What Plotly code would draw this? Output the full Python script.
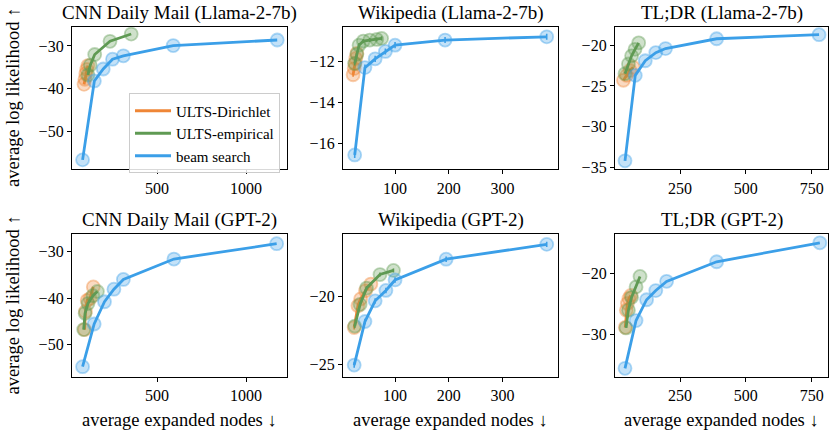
import plotly.graph_objects as go

W, H = 831, 439

titles = ["CNN Daily Mail (Llama-2-7b)", "Wikipedia (Llama-2-7b)", "TL;DR (Llama-2-7b)",
          "CNN Daily Mail (GPT-2)", "Wikipedia (GPT-2)", "TL;DR (GPT-2)"]
series_names = ["ULTS-Dirichlet", "ULTS-empirical", "beam search"]
y_label = "average log likelihood ↑"
x_label = "average expanded nodes ↓"

# ---- CNN Daily Mail (Llama-2-7b)
cnn_llama_dir_x = [90, 95, 100, 105, 112]
cnn_llama_dir_y = [-39.0, -37.8, -36.5, -35.5, -34.6]
cnn_llama_emp_x = [112, 125, 150, 236, 355]
cnn_llama_emp_y = [-36.8, -34.5, -32.0, -28.9, -27.2]
cnn_llama_beam_x = [82, 148, 198, 250, 311, 591, 1175]
cnn_llama_beam_y = [-56.7, -38.2, -35.4, -33.1, -32.3, -29.9, -28.6]

# ---- Wikipedia (Llama-2-7b)
wiki_llama_dir_x = [22, 24, 25.5, 27, 29]
wiki_llama_dir_y = [-12.65, -12.35, -12.1, -11.85, -11.6]
wiki_llama_emp_x = [25, 29, 33, 41, 53, 66, 75]
wiki_llama_emp_y = [-12.1, -11.65, -11.2, -11.0, -10.95, -10.92, -10.87]
wiki_llama_beam_x = [25, 44, 63, 82, 100, 193, 382]
wiki_llama_beam_y = [-16.58, -12.3, -11.87, -11.51, -11.2, -10.95, -10.79]
wiki_llama_err = [0.1, 0.1, 0.15]

# ---- TL;DR (Llama-2-7b)
tldr_llama_dir_x = [35, 47, 60, 72]
tldr_llama_dir_y = [-24.3, -23.7, -23.1, -22.7]
tldr_llama_emp_x = [41, 54, 66, 79, 93]
tldr_llama_emp_y = [-23.5, -22.3, -21.3, -20.5, -19.7]
tldr_llama_beam_x = [41, 80, 118, 158, 195, 389, 778]
tldr_llama_beam_y = [-34.2, -23.7, -21.9, -20.9, -20.4, -19.2, -18.7]

# ---- CNN Daily Mail (GPT-2)
cnn_gpt2_dir_x = [93, 98, 108, 124, 142]
cnn_gpt2_dir_y = [-46.8, -42.9, -40.5, -40.1, -37.6]
cnn_gpt2_emp_x = [88, 96, 112, 140, 165]
cnn_gpt2_emp_y = [-46.8, -43.3, -41.2, -39.5, -38.6]
cnn_gpt2_beam_x = [82, 147, 205, 258, 311, 595, 1172]
cnn_gpt2_beam_y = [-54.8, -45.6, -40.8, -38.1, -36.0, -31.6, -28.3]

# ---- Wikipedia (GPT-2)
wiki_gpt2_dir_x = [24, 31, 36, 45, 55]
wiki_gpt2_dir_y = [-22.3, -20.7, -20.2, -19.6, -19.1]
wiki_gpt2_emp_x = [25, 35, 47, 72, 97]
wiki_gpt2_emp_y = [-22.2, -20.6, -19.4, -18.4, -18.1]
wiki_gpt2_beam_x = [24, 44, 63, 83, 100, 195, 382]
wiki_gpt2_beam_y = [-25.07, -21.86, -20.34, -19.57, -18.8, -17.27, -16.18]
wiki_gpt2_err = [0.15, 0.15, 0.2]

# ---- TL;DR (GPT-2)
tldr_gpt2_dir_x = [42, 46, 50, 56, 63]
tldr_gpt2_dir_y = [-28.8, -26.0, -24.9, -24.1, -23.6]
tldr_gpt2_emp_x = [45, 54, 66, 83, 98]
tldr_gpt2_emp_y = [-28.9, -26.0, -23.9, -22.2, -20.5]
tldr_gpt2_beam_x = [41, 83, 123, 158, 199, 389, 781]
tldr_gpt2_beam_y = [-35.5, -27.7, -24.3, -22.8, -21.3, -18.1, -15.0]

panels = [
    ((cnn_llama_dir_x, cnn_llama_dir_y), (cnn_llama_emp_x, cnn_llama_emp_y), (cnn_llama_beam_x, cnn_llama_beam_y), None),
    ((wiki_llama_dir_x, wiki_llama_dir_y), (wiki_llama_emp_x, wiki_llama_emp_y), (wiki_llama_beam_x, wiki_llama_beam_y), wiki_llama_err),
    ((tldr_llama_dir_x, tldr_llama_dir_y), (tldr_llama_emp_x, tldr_llama_emp_y), (tldr_llama_beam_x, tldr_llama_beam_y), None),
    ((cnn_gpt2_dir_x, cnn_gpt2_dir_y), (cnn_gpt2_emp_x, cnn_gpt2_emp_y), (cnn_gpt2_beam_x, cnn_gpt2_beam_y), None),
    ((wiki_gpt2_dir_x, wiki_gpt2_dir_y), (wiki_gpt2_emp_x, wiki_gpt2_emp_y), (wiki_gpt2_beam_x, wiki_gpt2_beam_y), wiki_gpt2_err),
    ((tldr_gpt2_dir_x, tldr_gpt2_dir_y), (tldr_gpt2_emp_x, tldr_gpt2_emp_y), (tldr_gpt2_beam_x, tldr_gpt2_beam_y), None),
]

x_ranges = [[22.5, 1230], [3.2, 403], [3, 812], [22.5, 1230], [3.2, 403], [3, 812]]
y_ranges = [[-58.9, -25.45], [-17.28, -10.29], [-35.24, -17.7],
            [-57.0, -26.25], [-25.94, -15.43], [-36.9, -13.6]]
x_ticks = [[500, 1000], [100, 200, 300], [250, 500, 750]] * 2
y_ticks = [[-30, -40, -50], [-12, -14, -16], [-20, -25, -30, -35],
           [-30, -40, -50], [-20, -25], [-20, -30]]

colors = [(239, 134, 54), (95, 154, 83), (59, 159, 232)]

# panel pixel boxes
col_px = [(72, 287), (343, 558), (615, 828)]
row_px = [(27, 172), (238, 383)]

FONT = "Liberation Serif"
fig = go.Figure()

for p, (d1, d2, d3, err) in enumerate(panels):
    r, c = divmod(p, 3)
    ax = "" if p == 0 else str(p + 1)
    xa, ya = "x" + ax, "y" + ax
    for s, (xs, ys) in enumerate([d1, d2, d3]):
        rr, gg, bb = colors[s]
        ekw = {}
        if err is not None:
            ekw = dict(error_y=dict(type="constant", value=err[s], color=f"rgb({rr},{gg},{bb})",
                                    thickness=1.6, width=0))
        fig.add_trace(go.Scatter(
            x=xs, y=ys, mode="markers", xaxis=xa, yaxis=ya, showlegend=False,
            marker=dict(size=13, color=f"rgba({rr},{gg},{bb},0.3)",
                        line=dict(color=f"rgba({rr},{gg},{bb},0.4)", width=1.8)),
            hoverinfo="skip", **ekw))
        fig.add_trace(go.Scatter(
            x=xs, y=ys, mode="lines", xaxis=xa, yaxis=ya,
            name=series_names[s], showlegend=(p == 0),
            line=dict(color=f"rgb({rr},{gg},{bb})", width=2.8)))
    x0, x1 = col_px[c]
    y0, y1 = row_px[r]
    axis_common = dict(showline=True, linecolor="black", linewidth=1.3, mirror=True,
                       ticks="outside", ticklen=4, tickwidth=1.1, tickcolor="black",
                       showgrid=False, zeroline=False,
                       tickfont=dict(family=FONT, size=16, color="black"))
    fig.layout["xaxis" + ax] = dict(domain=[x0 / W, x1 / W], anchor=ya, range=x_ranges[p],
                                    tickvals=x_ticks[p], **axis_common)
    fig.layout["yaxis" + ax] = dict(domain=[1 - y1 / H, 1 - y0 / H], anchor=xa, range=y_ranges[p],
                                    tickvals=y_ticks[p], **axis_common)
    fig.add_annotation(text=titles[p], xref="paper", yref="paper",
                       x=(x0 + x1) / 2 / W, y=1 - (y0 - 14) / H, showarrow=False,
                       font=dict(family=FONT, size=19, color="black"),
                       xanchor="center", yanchor="middle")
    if r == 1:
        fig.add_annotation(text=x_label, xref="paper", yref="paper",
                           x=(x0 + x1) / 2 / W, y=1 - 427 / H, showarrow=False,
                           font=dict(family=FONT, size=18.5, color="black"),
                           xanchor="center", yanchor="middle")
    if c == 0:
        fig.add_annotation(text=y_label, xref="paper", yref="paper",
                           x=13 / W, y=1 - (y0 + y1) / 2 / H, showarrow=False, textangle=-90,
                           font=dict(family=FONT, size=18.5, color="black"),
                           xanchor="center", yanchor="middle")

fig.update_layout(
    width=W, height=H, margin=dict(l=0, r=0, t=0, b=0),
    paper_bgcolor="white", plot_bgcolor="white",
    legend=dict(x=129 / W, y=1 - 95 / H, xanchor="left", yanchor="top",
                bgcolor="rgba(255,255,255,0.85)", bordercolor="#cccccc", borderwidth=1,
                font=dict(family=FONT, size=15, color="black"), tracegroupgap=0,
                itemwidth=36, entrywidth=105),
    font=dict(family=FONT, color="black"),
)

fig.write_html("out.html", config={"displayModeBar": False},
               post_script="document.body.style.margin='0';document.body.style.overflow='hidden';")
